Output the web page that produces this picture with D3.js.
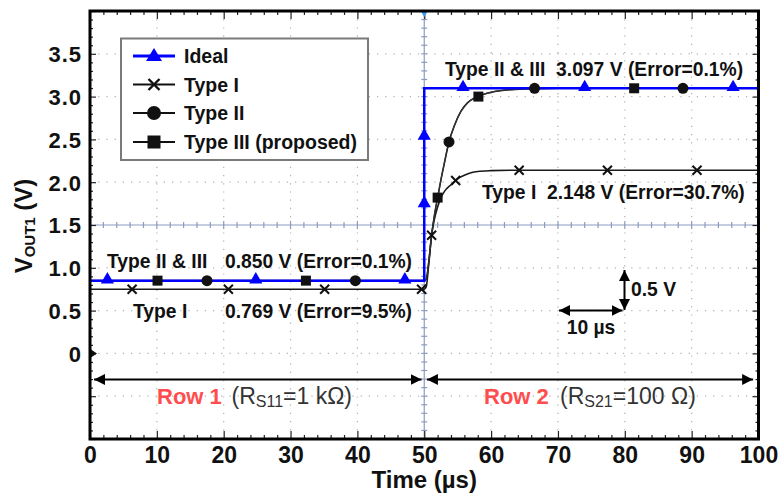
<!DOCTYPE html>
<html><head><meta charset="utf-8">
<script src="https://cdn.jsdelivr.net/npm/d3@7/dist/d3.min.js"></script>
<style>
body{margin:0;background:#fff;}
text{font-family:Arial,"Liberation Sans",sans-serif;white-space:pre;}
</style></head>
<body><svg id="c" width="780" height="495"></svg>
<script>
// ---------- data ----------
const idealT = [0, 50, 50, 100];
const idealV = [0.85, 0.85, 3.097, 3.097];
const idealMarkT = [2.6, 24.8, 47.1, 50, 50, 55.8, 74.0, 96.2];
const idealMarkV = [0.85, 0.85, 0.85, 1.74, 2.53, 3.097, 3.097, 3.097];

const type1T = [0, 50, 50.3, 50.7, 51.1, 51.5, 52, 52.5, 53, 54, 55, 56, 57, 58, 60, 63, 100];
const type1V = [0.75, 0.75, 0.78, 1.07, 1.38, 1.56, 1.71, 1.82, 1.89, 1.97, 2.04, 2.08, 2.11, 2.125, 2.135, 2.14, 2.14];
const type1MarkT = [6.3, 20.7, 35.1, 49.6, 51.1, 54.7, 64.2, 77.4, 90.8];
const type1MarkV = [0.75, 0.75, 0.75, 0.75, 1.38, 2.02, 2.14, 2.14, 2.14];

const type2T = [0, 50, 50.3, 50.7, 51.1, 51.5, 52, 52.5, 53, 53.7, 54.5, 55.5, 56.5, 58, 60, 62, 65, 70, 100];
const type2V = [0.85, 0.85, 0.87, 1.08, 1.38, 1.6, 1.82, 2.03, 2.22, 2.47, 2.66, 2.83, 2.93, 3.0, 3.05, 3.075, 3.09, 3.097, 3.097];
const type2MarkT = [17.5, 39.7, 53.7, 66.5, 88.7];
const type2MarkV = [0.85, 0.85, 2.47, 3.097, 3.097];

const type3T = [0, 50, 50.3, 50.7, 51.1, 51.5, 52, 52.5, 53, 53.7, 54.5, 55.5, 56.5, 58, 60, 62, 65, 70, 100];
const type3V = [0.85, 0.85, 0.87, 1.08, 1.38, 1.6, 1.82, 2.03, 2.22, 2.47, 2.66, 2.83, 2.93, 3.0, 3.05, 3.075, 3.09, 3.097, 3.097];
const type3MarkT = [10.1, 32.3, 52.0, 58.1, 81.4];
const type3MarkV = [0.85, 0.85, 1.82, 3.0, 3.097];

const xTickValues = [0, 10, 20, 30, 40, 50, 60, 70, 80, 90, 100];
const yTickValues = [0, 0.5, 1.0, 1.5, 2.0, 2.5, 3.0, 3.5];
const legendLabels = ["Ideal", "Type I", "Type II", "Type III (proposed)"];

// ---------- layout ----------
const svg = d3.select("#c");
const L = 90, R = 758.5, T = 11, B = 439;
const x = d3.scaleLinear().domain([0, 100]).range([L, R]);
const y = d3.scaleLinear().domain([-1, 4]).range([B, T]);

// dotted grid
const g = svg.append("g");
const gridX = d3.range(10, 100, 10).filter(d => d !== 50);
const gridY = d3.range(-0.5, 4, 0.5).filter(d => Math.abs(d - 1.5) > 1e-6);
g.selectAll(".gx").data(gridX).join("line")
  .attr("x1", d => x(d)).attr("x2", d => x(d)).attr("y1", T).attr("y2", B)
  .attr("stroke", "#b0b0b0").attr("stroke-width", 1.2).attr("stroke-dasharray", "1.2,7");
g.selectAll(".gy").data(gridY).join("line")
  .attr("y1", d => y(d)).attr("y2", d => y(d)).attr("x1", L).attr("x2", R)
  .attr("stroke", "#b0b0b0").attr("stroke-width", 1.2).attr("stroke-dasharray", "1.2,7");

// center graticule lines with ticks
const cc = "#8c9cc0";
g.append("line").attr("x1", x(50)).attr("x2", x(50)).attr("y1", T).attr("y2", B).attr("stroke", cc).attr("stroke-width", 1.2);
g.append("line").attr("y1", y(1.5)).attr("y2", y(1.5)).attr("x1", L).attr("x2", R).attr("stroke", cc).attr("stroke-width", 1.2);
const hTicks = d3.range(0, 100.01, 2);
g.selectAll(".ht").data(hTicks).join("line")
  .attr("x1", d => x(d)).attr("x2", d => x(d))
  .attr("y1", d => y(1.5) - (d % 10 === 0 ? 4 : 3)).attr("y2", d => y(1.5) + (d % 10 === 0 ? 4 : 3))
  .attr("stroke", cc).attr("stroke-width", 1.2);
const vTicks = d3.range(-1, 4.001, 0.1);
g.selectAll(".vt").data(vTicks).join("line")
  .attr("y1", d => y(d)).attr("y2", d => y(d))
  .attr("x1", x(50) - 3).attr("x2", x(50) + 3)
  .attr("stroke", cc).attr("stroke-width", 1.2);

// border ticks (inward) through d3 axes
function tickAxis(axisFn, scale, vals, size, tr) {
  const a = axisFn(scale).tickValues(vals).tickSize(-size).tickFormat("");
  const ga = svg.append("g").attr("transform", tr).call(a);
  ga.select(".domain").remove();
  ga.selectAll("line").attr("stroke", "#222").attr("stroke-width", 1.2);
}
const minorX = d3.range(0, 100.01, 2).filter(d => d % 10 !== 0);
const minorY = d3.range(-1, 4.001, 0.1).map(d => +d.toFixed(1)).filter(d => Math.abs((d * 2) - Math.round(d * 2)) > 1e-6);
const majorY = d3.range(-1, 4.001, 0.5);
tickAxis(d3.axisBottom, x, minorX, 4, `translate(0,${B})`);
tickAxis(d3.axisBottom, x, xTickValues, 8, `translate(0,${B})`);
tickAxis(d3.axisTop, x, minorX, 4, `translate(0,${T})`);
tickAxis(d3.axisTop, x, xTickValues, 8, `translate(0,${T})`);
tickAxis(d3.axisLeft, y, minorY, 3, `translate(${L},0)`);
tickAxis(d3.axisLeft, y, majorY, 6, `translate(${L},0)`);
tickAxis(d3.axisRight, y, minorY, 3, `translate(${R},0)`);
tickAxis(d3.axisRight, y, majorY, 6, `translate(${R},0)`);

// tick labels
const xa = svg.append("g").attr("transform", `translate(0,${B})`)
  .call(d3.axisBottom(x).tickValues(xTickValues).tickSize(0).tickPadding(8).tickFormat(d3.format("d")));
xa.select(".domain").remove();
xa.selectAll("text").attr("font-size", 23).attr("font-weight", "bold").attr("fill", "#111")
  .attr("font-family", "Arial, 'Liberation Sans', sans-serif").attr("dy", "0.71em");
const ya = svg.append("g").attr("transform", `translate(${L},0)`)
  .call(d3.axisLeft(y).tickValues(yTickValues).tickSize(0).tickPadding(8).tickFormat(d => d === 0 ? "0" : d.toFixed(1)));
ya.select(".domain").remove();
ya.selectAll("text").attr("font-size", 22).attr("font-weight", "bold").attr("fill", "#111")
  .attr("font-family", "Arial, 'Liberation Sans', sans-serif").attr("letter-spacing", 1).attr("dy", "0.36em");

// axis titles
svg.append("text").attr("x", (L + R) / 2).attr("y", 488).attr("text-anchor", "middle")
  .attr("font-size", 24).attr("font-weight", "bold").attr("fill", "#111").text("Time (µs)");
const yl = svg.append("text").attr("transform", "translate(32,226) rotate(-90)").attr("text-anchor", "middle")
  .attr("font-size", 24).attr("font-weight", "bold").attr("fill", "#111");
yl.append("tspan").text("V");
yl.append("tspan").attr("font-size", 15).attr("dy", 3).text("OUT1");
yl.append("tspan").attr("dy", -3).text(" (V)");

// ---------- lines ----------
const line = d3.line().x(d => x(d[0])).y(d => y(d[1])).curve(d3.curveMonotoneX);
const lineLin = d3.line().x(d => x(d[0])).y(d => y(d[1]));
const zip = (a, b) => a.map((v, i) => [v, b[i]]);
const lines = svg.append("g").attr("fill", "none");
lines.append("path").attr("d", line(zip(type1T, type1V))).attr("stroke", "#1a1a1a").attr("stroke-width", 1.6);
lines.append("path").attr("d", line(zip(type2T, type2V))).attr("stroke", "#1a1a1a").attr("stroke-width", 1.6);
lines.append("path").attr("d", line(zip(type3T, type3V))).attr("stroke", "#333").attr("stroke-width", 1.2);
lines.append("path").attr("d", lineLin(zip(idealT, idealV))).attr("stroke", "#0000ff").attr("stroke-width", 2.5);

// markers
const tri = d3.symbol().type(d3.symbolTriangle).size(75);
const sq = d3.symbol().type(d3.symbolSquare).size(100);
const mk = svg.append("g");
function drawMarks(ts, vs, kind) {
  zip(ts, vs).forEach(p => {
    const cx = x(p[0]), cy = y(p[1]);
    if (kind === "tri") mk.append("path").attr("d", tri()).attr("transform", `translate(${cx},${cy - 1})`).attr("fill", "#0000ff");
    if (kind === "x") mk.append("path").attr("d", `M-4.5,-4.5L4.5,4.5M-4.5,4.5L4.5,-4.5`).attr("transform", `translate(${cx},${cy})`).attr("stroke", "#111").attr("stroke-width", 2);
    if (kind === "circ") mk.append("circle").attr("cx", cx).attr("cy", cy).attr("r", 5.5).attr("fill", "#111");
    if (kind === "sq") mk.append("path").attr("d", sq()).attr("transform", `translate(${cx},${cy})`).attr("fill", "#111");
  });
}
drawMarks(idealMarkT, idealMarkV, "tri");
drawMarks(type1MarkT, type1MarkV, "x");
drawMarks(type2MarkT, type2MarkV, "circ");
drawMarks(type3MarkT, type3MarkV, "sq");

// ground marker and trigger marker
svg.append("path").attr("d", `M${L + 1},${y(0) - 4}L${L + 7},${y(0)}L${L + 1},${y(0) + 4}Z`).attr("fill", "#111");
svg.append("path").attr("d", `M${x(50) - 3},${T + 1}L${x(50) + 3},${T + 1}L${x(50)},${T + 6}Z`).attr("fill", "#3399ff");

// border
svg.append("rect").attr("x", L).attr("y", T).attr("width", R - L).attr("height", B - T)
  .attr("fill", "none").attr("stroke", "#000").attr("stroke-width", 3);

// ---------- legend ----------
const lg = svg.append("g");
lg.append("rect").attr("x", 121).attr("y", 38.5).attr("width", 247).attr("height", 121.5)
  .attr("fill", "#fff").attr("stroke", "#7a7a7a").attr("stroke-width", 2);
const legY = [56, 84.5, 113, 142];
const legKinds = ["tri", "x", "circ", "sq"];
legendLabels.forEach((lab, i) => {
  const yy = legY[i];
  lg.append("line").attr("x1", 133).attr("x2", 175).attr("y1", yy).attr("y2", yy)
    .attr("stroke", i === 0 ? "#0000ff" : "#111").attr("stroke-width", i === 0 ? 3 : 2.2);
  const k = legKinds[i];
  if (k === "tri") lg.append("path").attr("d", "M-8,5L8,5L0,-8Z").attr("transform", `translate(154,${yy})`).attr("fill", "#0000ff");
  if (k === "x") lg.append("path").attr("d", "M-5.5,-5.5L5.5,5.5M-5.5,5.5L5.5,-5.5").attr("transform", `translate(154,${yy})`).attr("stroke", "#111").attr("stroke-width", 2.4);
  if (k === "circ") lg.append("circle").attr("cx", 154).attr("cy", yy).attr("r", 7).attr("fill", "#111");
  if (k === "sq") lg.append("rect").attr("x", 147.5).attr("y", yy - 6.5).attr("width", 13).attr("height", 13).attr("fill", "#111");
  lg.append("text").attr("x", 184).attr("y", yy + 7).attr("font-size", 19.5).attr("font-weight", "bold").attr("fill", "#111").text(lab);
});

// ---------- annotations ----------
function txt(xx, yy, s, opts = {}) {
  return svg.append("text").attr("x", xx).attr("y", yy).attr("font-size", opts.size || 19.3)
    .attr("font-weight", opts.weight || "bold").attr("fill", opts.fill || "#111")
    .attr("text-anchor", opts.anchor || "start").text(s);
}
txt(445, 76, "Type II & III  3.097 V (Error=0.1%)");
txt(482, 199, "Type I  2.148 V (Error=30.7%)");
txt(107, 268, "Type II & III");
txt(225, 268, "0.850 V (Error=0.1%)");
txt(133, 318, "Type I");
txt(225, 318, "0.769 V (Error=9.5%)");
txt(631, 296, "0.5 V");
txt(591, 334, "10 µs", { anchor: "middle" });

// arrows
const defs = svg.append("defs");
defs.append("marker").attr("id", "ah").attr("viewBox", "0 0 10 10").attr("refX", 10).attr("refY", 5)
  .attr("markerWidth", 5.5).attr("markerHeight", 5.5).attr("markerUnits", "strokeWidth").attr("orient", "auto-start-reverse")
  .append("path").attr("d", "M0,0L10,5L0,10Z").attr("fill", "#000");
function arrow(x1, y1, x2, y2) {
  svg.append("line").attr("x1", x1).attr("y1", y1).attr("x2", x2).attr("y2", y2)
    .attr("stroke", "#000").attr("stroke-width", 2)
    .attr("marker-start", "url(#ah)").attr("marker-end", "url(#ah)");
}
const rowY = 379.5;
arrow(x(0.6), rowY, x(49.6), rowY);
arrow(x(50.4), rowY, x(99.2), rowY);
arrow(624.5, 270, 624.5, 310);
arrow(559, 310.5, 622.5, 310.5);

// row labels
function rowLabel(xRow, xPar, num, sub, rest) {
  txt(xRow, 404, "Row " + num, { size: 22, fill: "#ff4d4d" });
  const t = svg.append("text").attr("x", xPar).attr("y", 404).attr("font-size", 23).attr("fill", "#333");
  t.append("tspan").text("(R");
  t.append("tspan").attr("font-size", 16).attr("dy", 3).text(sub);
  t.append("tspan").attr("dy", -3).text(rest);
}
rowLabel(157, 231.5, 1, "S11", "=1 kΩ)");
rowLabel(484, 560, 2, "S21", "=100 Ω)");
</script></body></html>
